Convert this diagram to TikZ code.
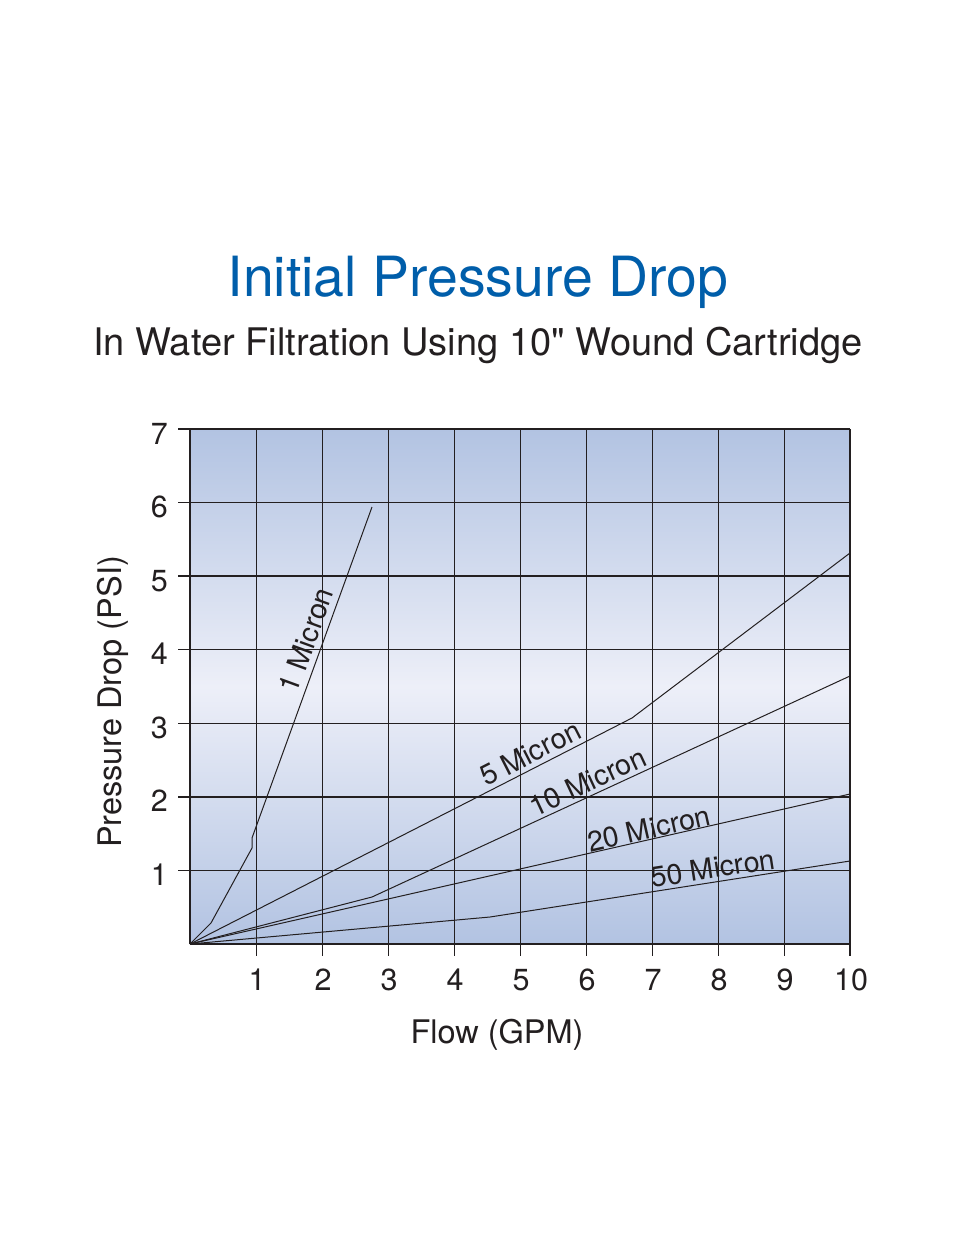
\documentclass[tikz,border=0pt]{standalone}
\usepackage{fontspec}
\setmainfont{TeX Gyre Heros}
\definecolor{gridc}{RGB}{35,31,32}
\definecolor{plottop}{RGB}{178,195,226}
\definecolor{plotmid}{RGB}{237,239,248}
\definecolor{titlec}{RGB}{0,94,170}
\begin{document}
\begin{tikzpicture}[x=1pt,y=-1pt,
  gridline/.style={line width=1.4pt,draw=gridc},
  curve/.style={line width=1pt,draw=gridc,line join=round},
  lbl/.style={font=\fontsize{28.5}{30}\selectfont, text=gridc, inner sep=0pt},
  ticklbl/.style={font=\fontsize{30.5}{32}\selectfont, text=gridc, inner sep=0pt},
  axlbl/.style={font=\fontsize{32.5}{34}\selectfont, text=gridc, inner sep=0pt}]
\useasboundingbox (0,0) rectangle (954,1235);
\fill[white] (0,0) rectangle (954,1235);
% titles
\node[anchor=base, inner sep=0pt, text=titlec, font=\fontsize{55.4}{60}\selectfont] (title) at (478,296) {Initial Pressure Drop};
\node[anchor=base, inner sep=0pt, text=gridc, font=\fontsize{38}{40}\selectfont] (subtitle) at (478,355) {In Water Filtration Using 10\textquotedbl{} Wound Cartridge};
% plot background
\shade[top color=plottop, bottom color=plottop, middle color=plotmid] (190,429) rectangle (850,944);
% vertical grid lines and ticks
\foreach \i in {1,...,9} \draw[gridline] (190.5+66*\i,429) -- (190.5+66*\i,956);
\draw[line width=2.2pt,draw=gridc] (850,429) -- (850,956);
\draw[gridline] (190,429) -- (190,944);
% horizontal grid lines and ticks
\foreach \j in {1,...,7} \draw[gridline] (178,944-73.571*\j) -- (850,944-73.571*\j);
\draw[gridline] (190,944) -- (850,944);
% y tick labels
\foreach \j in {1,...,7} \node[ticklbl, anchor=base east] (yl\j) at (168,944-73.571*\j+15) {\j};
% x tick labels
\foreach \i in {1,...,10} \node[ticklbl, anchor=base] (xl\i) at (191+66*\i,990) {\i};
% axis labels
\node[axlbl, anchor=base] (xlab) at (497,1043) {Flow (GPM)};
\node[axlbl, anchor=base, rotate=90] (ylab) at (121,702) {Pressure Drop (PSI)};
% curves
\coordinate (O) at (190,944);
\coordinate (a1) at (211,923);
\coordinate (a2) at (252,848);
\coordinate (a3) at (252,838);
\coordinate (a4) at (372,507);
\draw[curve] (O) -- (a1) -- (a2) -- (a3) -- (a4);
\coordinate (b1) at (632,718);
\coordinate (b2) at (850,553);
\draw[curve] (O) -- (b1) -- (b2);
\coordinate (c1) at (372,897);
\coordinate (c2) at (850,676);
\draw[curve] (O) -- (c1) -- (c2);
\coordinate (d1) at (850,794);
\draw[curve] (O) -- (d1);
\coordinate (e1) at (490,917);
\coordinate (e2) at (850,861);
\draw[curve] (O) -- (e1) -- (e2);
% curve labels
\node[lbl, rotate=70] (l1) at (306,640) {1 Micron};
\node[lbl, rotate=27] (l5) at (530,753) {5 Micron};
\node[lbl, rotate=25] (l10) at (587.5,781.5) {10 Micron};
\node[lbl, rotate=12.8] (l20) at (649,828.5) {20 Micron};
\node[lbl, rotate=8.7] (l50) at (713,868) {50 Micron};
\end{tikzpicture}
\end{document}
